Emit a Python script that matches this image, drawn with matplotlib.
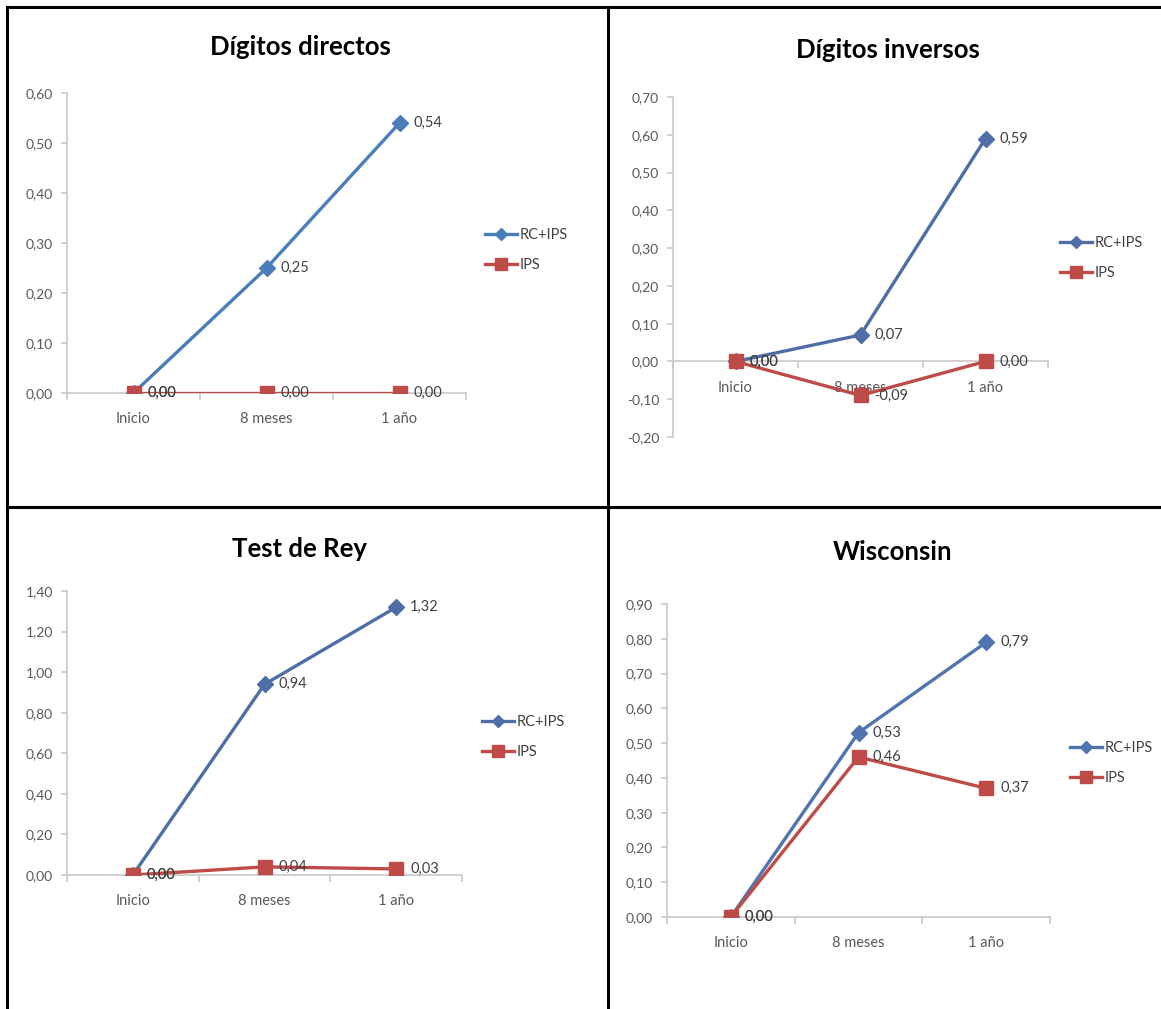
import matplotlib.pyplot as plt
from matplotlib.lines import Line2D

# categories and series, one panel per test
categories = ['Inicio', '8 meses', '1 año']
titles = ['Dígitos directos', 'Dígitos inversos', 'Test de Rey', 'Wisconsin']
rc_ips = [
    [0.00, 0.25, 0.54],
    [0.00, 0.07, 0.59],
    [0.00, 0.94, 1.32],
    [0.00, 0.53, 0.79],
]
ips = [
    [0.00, 0.00, 0.00],
    [0.00, -0.09, 0.00],
    [0.00, 0.04, 0.03],
    [0.00, 0.46, 0.37],
]
y_limits = [(0.0, 0.6), (-0.2, 0.7), (0.0, 1.4), (0.0, 0.9)]
y_steps = [0.1, 0.1, 0.2, 0.1]

plt.rcParams['font.family'] = ['Lato', 'DejaVu Sans']

W, H = 1161, 1009
fig = plt.figure(figsize=(W / 100, H / 100), dpi=100)

# axes boxes in pixels: left, right, top, bottom
boxes = [
    (67, 466, 93, 393),
    (673, 1048, 97, 437),
    (67, 462, 591, 875),
    (667, 1050, 604, 917),
]
title_pos = [(300, 47), (888, 50), (300, 549), (893, 552)]
legend_pos = [(490, 240), (1065, 248), (487, 727), (1075, 753)]
blue_cols = ['#4a7ebb', '#4f6ea8', '#4f6ea8', '#4f74b0']
red_col = '#be4b48'
grey = '#c8c8c8'
label_col = '#404040'

for i in range(4):
    x0, x1, top, bot = boxes[i]
    ax = fig.add_axes([x0 / W, 1 - bot / H, (x1 - x0) / W, (bot - top) / H])
    lo, hi = y_limits[i]
    ax.set_xlim(-0.5, 2.5)
    ax.set_ylim(lo, hi)

    xs = range(len(categories))
    ax.plot(xs, rc_ips[i], color=blue_cols[i], lw=2.4, marker='D', ms=8,
            mec=blue_cols[i], zorder=3)
    ax.plot(xs, ips[i], color=red_col, lw=2.4, marker='s', ms=10,
            mec=red_col, zorder=4)

    for series in (rc_ips[i], ips[i]):
        for x, v in zip(xs, series):
            ax.annotate(f'{v:.2f}'.replace('.', ','), (x, v), xytext=(10, 0),
                        textcoords='offset points', va='center', ha='left',
                        fontsize=10.5, color=label_col, zorder=5)

    # Excel-like axes: light grey spines, category axis at zero
    for side in ('top', 'right'):
        ax.spines[side].set_visible(False)
    ax.spines['left'].set_color(grey)
    ax.spines['bottom'].set_color(grey)
    ax.spines['left'].set_linewidth(1.2)
    ax.spines['bottom'].set_linewidth(1.2)
    ax.spines['bottom'].set_position(('data', 0))

    n = int(round((hi - lo) / y_steps[i]))
    yt = [round(lo + k * y_steps[i], 2) for k in range(n + 1)]
    ax.set_yticks(yt)
    ax.set_yticklabels([f'{t:.2f}'.replace('.', ',') for t in yt])
    ax.tick_params(axis='y', colors=grey, labelcolor='#595959', labelsize=10,
                   length=4, width=1.2, pad=6)

    ax.set_xticks(list(xs))
    ax.set_xticklabels(categories)
    ax.set_xticks([-0.5, 0.5, 1.5, 2.5], minor=True)
    ax.tick_params(axis='x', which='major', length=0, labelcolor='#595959',
                   labelsize=10.5, pad=14)
    ax.tick_params(axis='x', which='minor', length=5, width=1.2, colors=grey)

    tx, ty = title_pos[i]
    fig.text(tx / W, 1 - ty / H, titles[i], ha='center', va='center',
             fontsize=18.5, fontweight='bold', color='black')

    lx, ly = legend_pos[i]
    handles = [
        Line2D([], [], color=blue_cols[i], lw=2.4, marker='D', ms=6),
        Line2D([], [], color=red_col, lw=2.4, marker='s', ms=8),
    ]
    fig.legend(handles, ['RC+IPS', 'IPS'], loc='upper left',
               bbox_to_anchor=(lx / W - 0.004, 1 - (ly - 12) / H),
               frameon=False, fontsize=10.5, handlelength=2.2, handletextpad=0.15,
               labelspacing=1.1, borderaxespad=0, borderpad=0,
               labelcolor='#404040')

# panel frame lines
frame = dict(color='black', lw=2.2)
fig.add_artist(Line2D([7 / W, 1], [1 - 7 / H, 1 - 7 / H], **frame))
fig.add_artist(Line2D([7 / W, 7 / W], [0, 1 - 7 / H], **frame))
fig.add_artist(Line2D([608 / W, 608 / W], [0, 1 - 7 / H], **frame))
fig.add_artist(Line2D([7 / W, 1], [1 - 507 / H, 1 - 507 / H], **frame))

fig.savefig('out.png', dpi=100, facecolor='white')
